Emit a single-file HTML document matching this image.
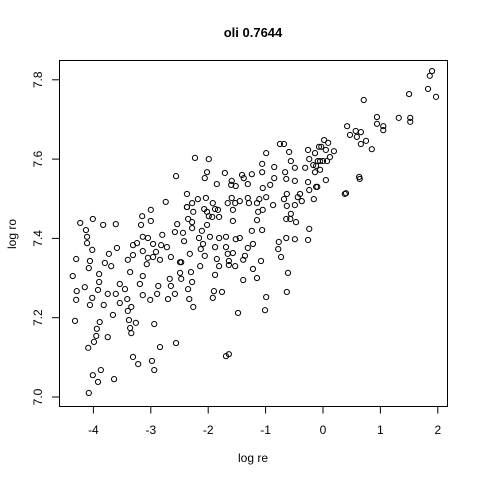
<!DOCTYPE html>
<html><head><meta charset="utf-8"><style>
html,body{margin:0;padding:0;background:#fff;}
svg{display:block;font-family:"Liberation Sans",Arial,sans-serif;}
</style></head><body>
<svg id="chart" width="480" height="480" viewBox="0 0 480 480">
<rect width="480" height="480" fill="#fff"/>
<text x="253" y="37" text-anchor="middle" font-weight="bold" font-size="13">oli 0.7644</text>
<text x="253" y="462" text-anchor="middle" font-size="12">log re</text>
<text x="16" y="234" text-anchor="middle" font-size="12" transform="rotate(-90 16 234)">log ro</text>
<rect x="59.5" y="60.5" width="388" height="346" fill="none" stroke="#000"/>
<g id="axes"></g>
<g id="points"></g>
</svg>
<script>
const xTicks = [-4, -3, -2, -1, 0, 1, 2];
const yTicks = [7.0, 7.2, 7.4, 7.6, 7.8];
const yTickLabels = ["7.0", "7.2", "7.4", "7.6", "7.8"];
const logRe = [
-2.74,-2.37,-3.00,-3.15,-4.01,-3.00,-4.23,-3.83,-3.61,-3.17,-2.54,-4.13,-2.58,-4.11,-2.80,-2.44,-3.14,-3.05,-4.11,-3.24,
-3.31,-2.96,-2.82,-2.72,-4.02,-3.59,-3.14,-2.91,-3.73,-3.31,-3.05,-2.65,-2.96,-2.84,-4.30,-4.06,-3.80,-3.69,-3.40,-3.07,
-2.49,-4.08,-3.36,-3.90,-4.36,-3.14,-2.49,-2.67,-2.47,-3.90,-3.54,-3.19,-4.15,-3.92,-2.87,-2.65,-3.45,-4.29,-3.61,-3.75,
-3.14,-2.89,-2.58,-4.02,-3.41,-3.01,-2.70,-4.30,-3.54,-3.82,-4.06,-3.34,-3.40,-3.66,-3.38,-4.32,-3.89,-3.26,-2.94,-3.94,
-3.36,-3.95,-3.75,-3.34,-3.99,-4.09,-2.84,-2.56,-3.31,-3.22,-2.98,-2.94,-3.87,-4.01,-3.64,-3.92,-4.08,-2.56,
-0.75,-0.68,-0.07,-0.26,-0.14,-0.99,-0.59,-2.23,-1.99,-0.56,-0.24,-0.09,-1.06,-0.17,-0.85,-0.49,-0.31,-0.14,-2.02,-1.71,
-1.41,-1.24,-1.06,-0.66,-2.06,-1.59,-1.38,-0.85,-0.64,-0.49,-0.26,-1.85,-1.31,-0.92,-1.60,-1.52,-1.05,-0.12,-0.24,-2.37,
-0.99,-0.63,-0.40,-0.44,-1.11,-2.04,-1.31,-1.59,-1.45,-0.68,-0.16,-0.37,-2.28,-2.18,-1.92,-1.66,-1.53,-1.29,-1.15,-2.37,
-2.07,-1.88,-1.83,-1.57,-1.05,-0.87,-0.63,-0.49,-2.26,-2.02,-1.13,-1.99,-1.93,-1.81,-0.56,-2.35,-2.28,-2.28,-1.57,-1.15,
-0.64,-0.57,-0.47,-2.02,-2.11,-1.24,-1.06,-0.24,-2.16,-1.81,-1.97,-1.69,-1.45,-1.52,-2.42,-0.64,-0.49,-0.26,-0.77,-2.09,
-1.22,-1.88,-2.13,-1.69,-1.31,-0.78,-2.32,-1.66,-1.57,-1.36,-0.73,-2.06,-1.85,-1.64,-1.08,-1.39,-2.47,-2.14,-1.81,-1.64,
-1.53,-1.22,-0.61,-2.30,-1.88,-1.15,-1.39,-2.28,-2.35,-1.90,-1.76,-0.63,-1.92,-0.99,-2.33,-2.26,-1.01,-1.48,-1.69,-1.64,
1.90,1.86,1.83,1.97,1.50,0.71,0.94,1.32,1.52,1.52,0.94,1.05,1.05,0.42,0.57,0.66,0.47,0.59,0.75,0.66,
0.85,0.02,0.09,-0.03,0.05,0.19,0.12,-0.05,0.00,0.07,-0.12,-0.05,0.63,0.64,0.05,-0.10,0.38,0.40
];
const logRo = [
7.492,7.479,7.472,7.456,7.449,7.444,7.439,7.434,7.436,7.434,7.436,7.421,7.416,7.404,7.409,7.414,7.404,7.401,7.388,7.388,
7.383,7.386,7.383,7.378,7.371,7.376,7.368,7.366,7.361,7.358,7.351,7.353,7.353,7.346,7.348,7.343,7.338,7.330,7.346,7.335,
7.340,7.325,7.315,7.310,7.305,7.305,7.313,7.298,7.298,7.290,7.285,7.285,7.277,7.270,7.280,7.280,7.272,7.267,7.260,7.260,
7.257,7.260,7.260,7.250,7.247,7.245,7.247,7.245,7.237,7.232,7.232,7.227,7.217,7.207,7.194,7.192,7.189,7.187,7.184,7.172,
7.174,7.154,7.151,7.161,7.139,7.124,7.126,7.136,7.101,7.083,7.091,7.068,7.068,7.055,7.045,7.038,7.010,7.557,
7.638,7.638,7.631,7.623,7.615,7.615,7.618,7.603,7.600,7.595,7.600,7.595,7.588,7.585,7.580,7.578,7.578,7.567,7.567,7.565,
7.560,7.562,7.567,7.567,7.552,7.545,7.552,7.552,7.550,7.545,7.542,7.537,7.537,7.535,7.535,7.532,7.527,7.530,7.522,7.512,
7.504,7.512,7.512,7.504,7.499,7.502,7.502,7.502,7.494,7.499,7.499,7.494,7.489,7.499,7.489,7.489,7.489,7.489,7.489,7.479,
7.474,7.474,7.472,7.472,7.472,7.484,7.482,7.484,7.467,7.467,7.467,7.456,7.454,7.454,7.462,7.449,7.441,7.426,7.444,7.446,
7.449,7.449,7.441,7.434,7.419,7.419,7.421,7.424,7.401,7.401,7.404,7.404,7.401,7.398,7.393,7.401,7.398,7.396,7.391,7.386,
7.386,7.378,7.373,7.378,7.376,7.373,7.361,7.361,7.363,7.356,7.353,7.356,7.348,7.343,7.343,7.346,7.340,7.330,7.330,7.333,
7.330,7.323,7.313,7.315,7.308,7.300,7.295,7.290,7.272,7.267,7.265,7.265,7.250,7.252,7.247,7.227,7.219,7.212,7.103,7.108,
7.822,7.810,7.777,7.757,7.764,7.749,7.706,7.704,7.704,7.694,7.689,7.683,7.673,7.683,7.671,7.668,7.661,7.656,7.646,7.638,
7.625,7.648,7.641,7.631,7.623,7.620,7.605,7.595,7.595,7.595,7.583,7.573,7.555,7.550,7.547,7.530,7.512,7.514
];
const NS = "http://www.w3.org/2000/svg";
function xScale(v){ return 323 + (v - 0) * 57.4; }
function yScale(v){ return 397 - (v - 7.0) * 396.5; }
const axes = document.getElementById('axes');
const pts = document.getElementById('points');
function mk(tag, attrs){ const e = document.createElementNS(NS, tag); for (const k in attrs) e.setAttribute(k, attrs[k]); return e; }
xTicks.forEach(function(t){
  const x = xScale(t);
  const ln = mk('line', {x1:x, x2:x, y1:406.5, y2:413.5, stroke:'#000'});
  
  
  axes.appendChild(ln);
  const tx = mk('text', {x:x, y:434, 'text-anchor':'middle', 'font-size':12});
  
  
  tx.textContent = String(t);
  axes.appendChild(tx);
});
yTicks.forEach(function(t, i){
  const y = yScale(t);
  const ln = mk('line', {x1:52, x2:59.5, y1:y, y2:y, stroke:'#000'});
  
  
  axes.appendChild(ln);
  const tx = mk('text', {x:42, y:y, 'text-anchor':'middle', 'font-size':12, transform:'rotate(-90 42 ' + y + ')'});
  
  
  tx.textContent = yTickLabels[i];
  axes.appendChild(tx);
});
for (let i = 0; i < logRe.length; i++) {
  const c = mk('circle', {cx:xScale(logRe[i]), cy:yScale(logRo[i]), r:2.6, fill:'none', stroke:'#000', 'stroke-width':1});
  
  
  pts.appendChild(c);
}
</script>
</body></html>
